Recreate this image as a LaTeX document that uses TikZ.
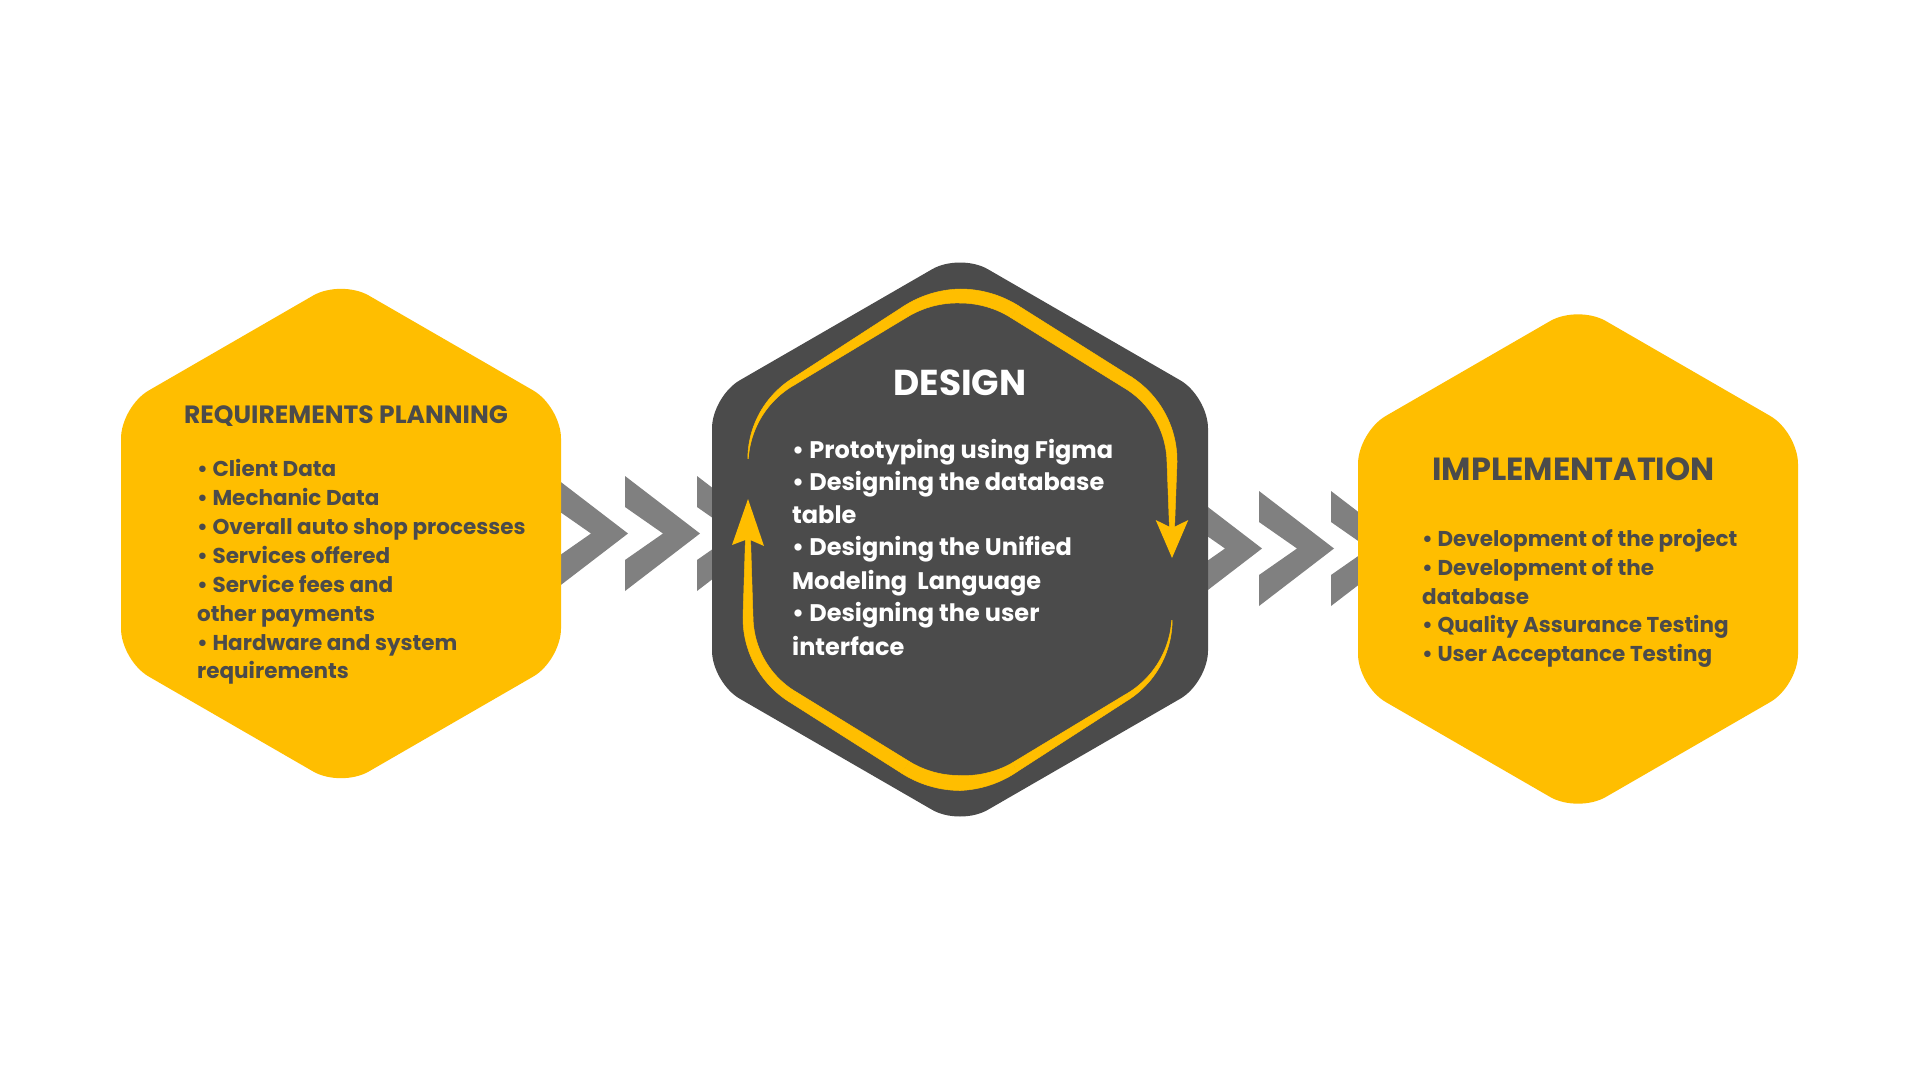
\documentclass[tikz,border=0pt]{standalone}
\usepackage{fontspec}
\setmainfont{Poppins}
\usetikzlibrary{calc}

\definecolor{hexyellow}{HTML}{FFBE00}
\definecolor{hexdark}{HTML}{4B4B4B}
\definecolor{chevgray}{HTML}{808080}
\definecolor{inkdark}{HTML}{4B4B4B}

% rounded hexagon, pointy top: centre x, centre y, half width, colour
\newcommand{\hexfill}[4]{%
  \fill[#4, rounded corners=32pt]
    ({#1+#3},#2) -- ({#1+#3},{#2+#3*0.57735}) -- (#1,{#2+#3*1.1547})
    -- ({#1-#3},{#2+#3*0.57735}) -- ({#1-#3},{#2-#3*0.57735})
    -- (#1,{#2-#3*1.1547}) -- ({#1+#3},{#2-#3*0.57735}) -- cycle;}

% one chevron: left x, centre y
\newcommand{\chevron}[2]{%
  \fill[chevgray] (#1,{#2-57.5}) -- ({#1+75},#2) -- (#1,{#2+57.5})
    -- (#1,{#2+26.5}) -- ({#1+38},#2) -- (#1,{#2-26.5}) -- cycle;}

% band of varying width along a circular arc:
% centre x, centre y, radius, start angle, end angle, start width, end width
\newcommand{\bandarc}[7]{%
  \fill[loopfill] plot[domain=#4:#5, samples=24, variable=\t]
    ({#1+(#3+(#6+(#7-#6)*(\t-#4)/(#5-#4))/2)*cos(\t)},
     {#2+(#3+(#6+(#7-#6)*(\t-#4)/(#5-#4))/2)*sin(\t)})
    -- plot[domain=#5:#4, samples=24, variable=\t]
    ({#1+(#3-(#6+(#7-#6)*(\t-#4)/(#5-#4))/2)*cos(\t)},
     {#2+(#3-(#6+(#7-#6)*(\t-#4)/(#5-#4))/2)*sin(\t)})
    -- cycle;}

% band of varying width along a straight segment: x0 y0 x1 y1 w0 w1
\newcommand{\bandseg}[6]{%
  \pgfmathsetmacro{\bsl}{veclen(#3-#1,#4-#2)}%
  \pgfmathsetmacro{\bsnx}{-(#4-#2)/\bsl}%
  \pgfmathsetmacro{\bsny}{(#3-#1)/\bsl}%
  \fill[loopfill] ({#1+\bsnx*#5/2},{#2+\bsny*#5/2})
    -- ({#3+\bsnx*#6/2},{#4+\bsny*#6/2})
    -- ({#3-\bsnx*#6/2},{#4-\bsny*#6/2})
    -- ({#1-\bsnx*#5/2},{#2-\bsny*#5/2}) -- cycle;}

\tikzset{
  loopfill/.style={fill=hexyellow, draw=hexyellow, line width=0.5pt, line join=round},
  bodytext/.style={anchor=base west, inner sep=0pt, font=\bfseries\fontsize{#1}{#1}\selectfont},
  darkbody/.style={bodytext=21.5, text=inkdark},
  lightbody/.style={bodytext=24, text=white},
  titletext/.style={anchor=base, inner sep=0pt, font=\bfseries\fontsize{#1}{#1}\selectfont},
}

\begin{document}
\begin{tikzpicture}[x=1pt, y=-1pt]
  \fill[white] (0,0) rectangle (1920,1080);
  \useasboundingbox (0,0) rectangle (1920,1080);

  % chevrons between the stages
  \foreach \cx in {553,625,697} {\chevron{\cx}{533.5}}
  \foreach \cx in {1187,1259,1331} {\chevron{\cx}{548.5}}

  % stage hexagons
  \coordinate (reqc) at (341,533.5);
  \coordinate (desc) at (960,539.5);
  \coordinate (impc) at (1578,559);
  \hexfill{341}{533.5}{220}{hexyellow}
  \hexfill{960}{539.5}{248}{hexdark}
  \hexfill{1578}{559}{220}{hexyellow}

  % iteration loop inside the design stage: upper arrow
  \bandarc{841.8}{462}{93.8}{182}{238}{0.5}{6.5}
  \bandseg{792.1}{382.5}{905.4}{311.7}{6.5}{11}
  \bandarc{960}{399}{103}{238}{270}{11}{14}
  \bandarc{960}{399}{103}{270}{302}{14}{14}
  \bandseg{1014.6}{311.7}{1127.9}{382.5}{14}{13}
  \bandarc{1078.2}{462}{93.8}{302}{360}{13}{10}
  \bandseg{1172}{462}{1172}{529}{10}{5}
  \fill[hexyellow] (1172,558) -- (1155.7,520) -- (1172,528) -- (1188.3,520) -- cycle;

  % lower arrow
  \bandarc{1078.2}{617}{93.8}{2}{58}{0.5}{6}
  \bandseg{1127.9}{696.5}{1014.6}{767.3}{6}{10}
  \bandarc{960}{680}{103}{58}{90}{10}{15}
  \bandarc{960}{680}{103}{90}{122}{15}{14}
  \bandseg{905.4}{767.3}{792.1}{696.5}{14}{12}
  \bandarc{841.8}{617}{93.8}{122}{180}{12}{10}
  \bandseg{748}{617}{748}{537}{10}{5}
  \fill[hexyellow] (748,499) -- (764,546) -- (748,539) -- (732,545) -- cycle;

  % requirements planning
  \node[titletext=25, text=inkdark] (reqtitle) at (346,423) {REQUIREMENTS PLANNING};
  \node[darkbody] (req1) at (197,476)   {• Client Data};
  \node[darkbody] (req2) at (197,505)   {• Mechanic Data};
  \node[darkbody] (req3) at (197,534)   {• Overall auto shop processes};
  \node[darkbody] (req4) at (197,563)   {• Services offered};
  \node[darkbody] (req5) at (197,592.5) {• Service fees and};
  \node[darkbody] (req6) at (197,621.5) {other payments};
  \node[darkbody] (req7) at (197,650)   {• Hardware and system};
  \node[darkbody] (req8) at (197,678.5) {requirements};

  % design
  \node[titletext=36, text=white] (destitle) at (960,395) {DESIGN};
  \node[lightbody] (des1) at (792,458.3) {• Prototyping using Figma};
  \node[lightbody] (des2) at (792,490.5) {• Designing the database};
  \node[lightbody] (des3) at (792,523.3) {table};
  \node[lightbody] (des4) at (792,555.8) {• Designing the Unified};
  \node[lightbody] (des5) at (792,589)   {Modeling~~Language};
  \node[lightbody] (des6) at (792,621.7) {• Designing the user};
  \node[lightbody] (des7) at (792,655)   {interface};

  % implementation
  \node[titletext=32, text=inkdark] (imptitle) at (1573.5,480) {IMPLEMENTATION};
  \node[darkbody] (imp1) at (1422,546)   {• Development of the project};
  \node[darkbody] (imp2) at (1422,575)   {• Development of the};
  \node[darkbody] (imp3) at (1422,604)   {database};
  \node[darkbody] (imp4) at (1422,632.5) {• Quality Assurance Testing};
  \node[darkbody] (imp5) at (1422,661)   {• User Acceptance Testing};
\end{tikzpicture}
\end{document}
